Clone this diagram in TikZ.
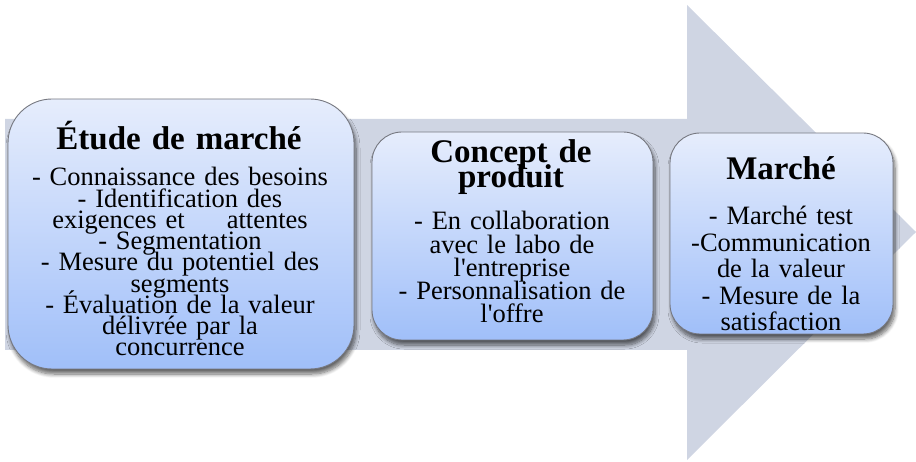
\documentclass[tikz,border=0pt]{standalone}
\usepackage{fontspec}
\setmainfont{Liberation Serif}
\usetikzlibrary{shadows.blur}
% keep the tight line pitch even when glyphs of adjacent lines touch
\lineskiplimit=-\maxdimen
\normallineskiplimit=-\maxdimen
\lineskip=0pt
\normallineskip=0pt

\definecolor{arrowfill}{RGB}{207,213,227}
\definecolor{stagetop}{RGB}{230,237,252}
\definecolor{stagebottom}{RGB}{160,191,249}
\definecolor{stageline}{RGB}{118,120,128}

\tikzset{
  stage/.style={draw=stageline, line width=0.9pt, inner sep=0pt,
    top color=stagetop, bottom color=stagebottom,
    blur shadow={shadow xshift=2pt, shadow yshift=-5pt,
      shadow blur steps=8, shadow blur radius=4pt, shadow opacity=60}},
  stagetitle/.style={anchor=base, align=center, inner sep=0pt, text width=330pt,
    font=\bfseries\fontsize{33}{25}\selectfont},
  stagetext/.style={anchor=base, align=center, inner sep=0pt, text width=330pt,
    font=\fontsize{26.5}{#1}\selectfont},
}

\begin{document}
\begin{tikzpicture}[x=1pt, y=-1pt]
  \useasboundingbox (0,0) rectangle (916,462);

  % broad background arrow
  \fill[arrowfill] (5,119) -- (687,119) -- (687,5) -- (916,232)
    -- (687,460) -- (687,350) -- (5,350) -- cycle;

  % stage boxes
  \node[stage, rounded corners=44pt, minimum width=346pt, minimum height=270pt]
    (etude) at (181,234) {};
  \node[stage, rounded corners=30pt, minimum width=281pt, minimum height=208pt]
    (concept) at (512.5,236) {};
  \node[stage, rounded corners=30pt, minimum width=223pt, minimum height=201pt]
    (marche) at (781.5,233.5) {};

  % stage 1
  \node[stagetitle] (etudeT) at (179,150) {Étude de marché};
  \node[stagetext=21.25] (etudeB) at (180,186)
    {- Connaissance des besoins\\- Identification des\\exigences et\hspace{42pt}attentes\\- Segmentation\\- Mesure du potentiel des\\segments\\- Évaluation de la valeur\\délivrée par la\\concurrence};

  % stage 2
  \node[stagetitle] (conceptT) at (511,163) {Concept de\\produit};
  \node[stagetext=23.25] (conceptB) at (512,230)
    {- En collaboration\\avec le labo de\\l\textquotesingle entreprise\\- Personnalisation de\\l\textquotesingle offre};

  % stage 3
  \node[stagetitle] (marcheT) at (781,180) {Marché};
  \node[stagetext=26.5] (marcheB) at (781,225)
    {- Marché test\\-Communication\\de la valeur\\- Mesure de la\\satisfaction};
\end{tikzpicture}
\end{document}
